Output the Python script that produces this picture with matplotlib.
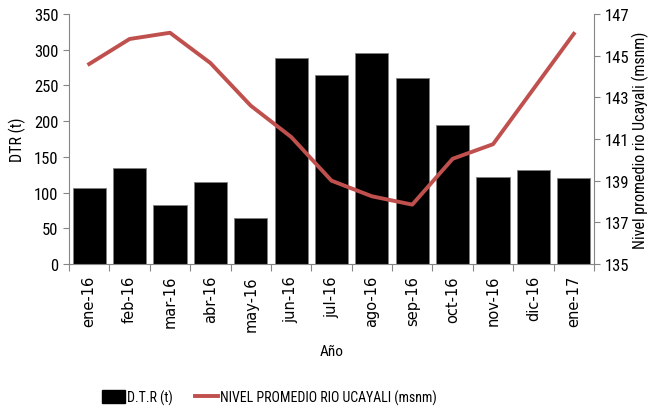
import matplotlib
matplotlib.use("Agg")
import matplotlib.pyplot as plt
import numpy as np
from matplotlib import font_manager
from matplotlib.patches import Patch
from matplotlib.lines import Line2D

# Monthly categories
months = ["ene-16", "feb-16", "mar-16", "abr-16", "may-16", "jun-16", "jul-16",
          "ago-16", "sep-16", "oct-16", "nov-16", "dic-16", "ene-17"]

# D.T.R (t), left axis
dtr = [107, 135, 82, 115, 65, 289, 265, 295, 261, 194, 122, 131, 121]

# Nivel promedio rio Ucayali (msnm), right axis
nivel = [144.6, 145.8, 146.1, 144.65, 142.6, 141.1, 139.0, 138.25, 137.85,
         140.05, 140.75, 143.4, 146.05]

# pick a narrow face if one is installed (Calibri-like look)
avail = {f.name for f in font_manager.fontManager.ttflist}
NARROW = "DejaVu Sans"
for name in ["Liberation Sans Narrow", "Roboto Condensed", "DejaVu Sans Condensed"]:
    if name in avail:
        NARROW = name
        break
NARROW_SCALE = 1.0 if NARROW != "DejaVu Sans" else 0.85

LINE_COLOR = "#c0504d"
GRID_COLOR = "#868686"

fig = plt.figure(figsize=(6.5, 4.1), dpi=100)
ax = fig.add_axes([69 / 650, 1 - 265 / 410, (594 - 69) / 650, (265 - 15) / 410])

x = np.arange(len(months))
ax.bar(x, dtr, width=0.82, color="black", edgecolor="#7f7f7f", linewidth=0.6,
       zorder=2)
ax.set_xlim(-0.5, len(months) - 0.5)
ax.set_ylim(0, 350)
ax.set_yticks(range(0, 351, 50))
ax.set_ylabel("DTR (t)", fontsize=11.5 * NARROW_SCALE, family=NARROW, labelpad=6)

# ticks between categories
ax.set_xticks(np.arange(-0.5, len(months), 1.0))
ax.set_xticklabels([])
ax.set_xticks(x, minor=True)
ax.set_xticklabels(months, minor=True, rotation=90, fontsize=10.5,
                   family="DejaVu Sans")
ax.tick_params(axis="x", which="major", length=5, color=GRID_COLOR)
ax.tick_params(axis="x", which="minor", length=0, pad=8)
ax.tick_params(axis="y", length=4, color=GRID_COLOR,
               labelsize=12 * NARROW_SCALE)
for lab in ax.get_yticklabels():
    lab.set_family(NARROW)
ax.set_xlabel("Año", fontsize=11 * NARROW_SCALE, family=NARROW, labelpad=10)

for side in ["top", "right"]:
    ax.spines[side].set_visible(False)
for side in ["left", "bottom"]:
    ax.spines[side].set_color(GRID_COLOR)

ax2 = ax.twinx()
ax2.plot(x, nivel, color=LINE_COLOR, linewidth=2.8, zorder=3)
ax2.set_ylim(135, 147)
ax2.set_yticks(range(135, 148, 2))
ax2.tick_params(axis="y", length=4, color=GRID_COLOR,
                labelsize=12 * NARROW_SCALE)
for lab in ax2.get_yticklabels():
    lab.set_family(NARROW)
ax2.set_ylabel("Nivel promedio rio Ucayali (msnm)", fontsize=11.5 * NARROW_SCALE,
               family=NARROW, labelpad=2)
for side in ["top", "left", "bottom"]:
    ax2.spines[side].set_visible(False)
ax2.spines["right"].set_color(GRID_COLOR)

handles = [Patch(facecolor="black", edgecolor="black"),
           Line2D([0], [0], color=LINE_COLOR, linewidth=2.8)]
fig.legend(handles, ["D.T.R (t)", "NIVEL PROMEDIO RIO UCAYALI (msnm)"],
           loc="center", bbox_to_anchor=(0.415, 1 - 398 / 410), ncol=2,
           frameon=False, prop={"family": NARROW, "size": 10 * NARROW_SCALE},
           handlelength=1.6, handleheight=1.1, handletextpad=0.2,
           columnspacing=1.6)

fig.savefig("out.png", dpi=100)
